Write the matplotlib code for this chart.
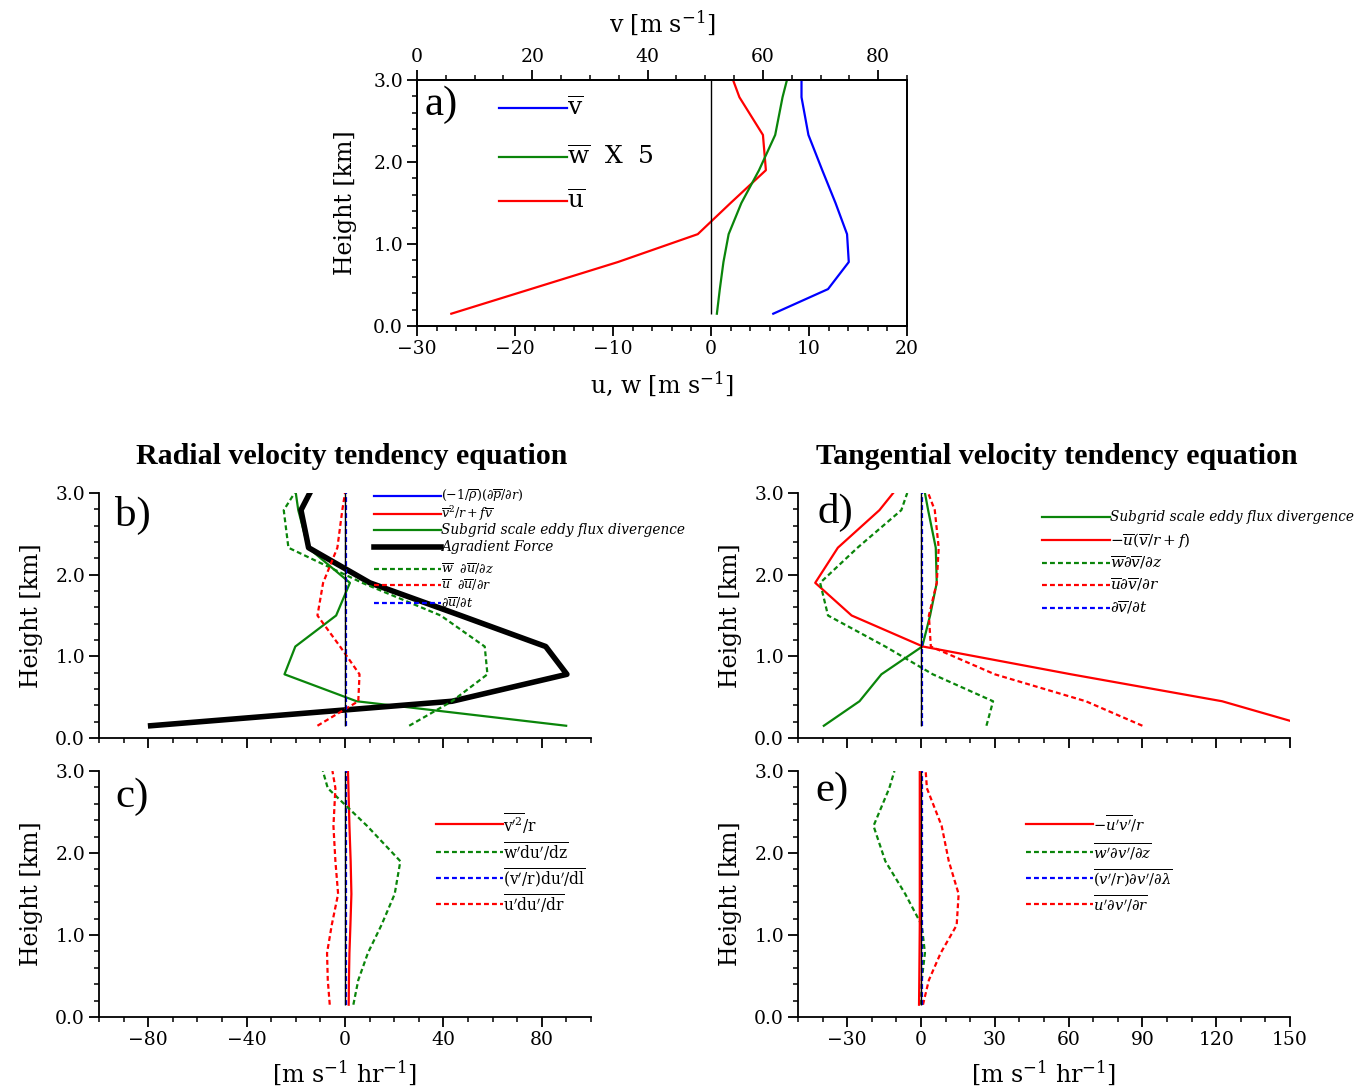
import matplotlib
matplotlib.use("Agg")
import matplotlib.pyplot as plt
from matplotlib.lines import Line2D
from matplotlib.ticker import MultipleLocator

plt.rcParams['font.family'] = 'DejaVu Serif'
plt.rcParams['mathtext.fontset'] = 'dejavuserif'
plt.rcParams['font.size'] = 13.5

W, H = 1364, 1089

# model levels [km]
z = [0.15, 0.45, 0.78, 1.12, 1.5, 1.9, 2.33, 2.79, 3.0]

# a) mean profiles [m/s]
u_bar = [-26.5, -18.4, -9.5, -1.35, 2.0, 5.6, 5.3, 2.9, 2.25]
w_bar_x5 = [0.6, 0.9, 1.27, 1.8, 3.1, 4.9, 6.55, 7.3, 7.75]
v_bar = [61.8, 71.3, 74.9, 74.6, 72.6, 70.3, 67.9, 66.7, 66.7]

# b) radial velocity budget [m/s/hr]
agradient = [-79, 43.5, 90.2, 81.6, 47, 10.1, -14.8, -17.9, -14.3]
subgrid_u = [89.9, 4.7, -24.6, -20.2, -3.6, 2.0, -15, -19, -20]
w_dudz = [26.1, 43.5, 57.9, 56.8, 38.9, 7.0, -23.0, -24.9, -20.5]
u_dudr = [-11.2, 5.4, 5.9, -2.0, -11.2, -8.9, -3.1, -1.1, 0.0]
dudt = [0.5, 0.5, 0.5, 0.5, 0.5, 0.5, 0.5, 0.5, 0.5]

# c) radial eddy terms
vp2_r = [1.5, 1.6, 1.8, 2.2, 2.6, 2.3, 1.8, 1.4, 1.2]
wp_dudz = [3.4, 5.4, 9.3, 14.8, 20.2, 22.5, 9.0, -7.0, -9.0]
vr_dudl = [0.3, 0.3, 0.3, 0.3, 0.3, 0.3, 0.3, 0.3, 0.3]
up_dudr = [-6.2, -7.0, -7.3, -5.4, -2.8, -3.9, -4.7, -3.9, -5.1]

# d) tangential velocity budget
subgrid_v = [-39.5, -25.0, -16.1, 0.5, 3.7, 6.4, 6.0, 2.9, 1.6]
abs_vort_flux = [157, 122.4, 61, 0.8, -28.2, -43, -33.8, -16.9, -11.3]
w_dvdz = [26.6, 29.3, 4.8, -14.5, -37.8, -41, -25.8, -8, -5.6]
u_dvdr = [90, 67, 30, 4, 3.2, 6.4, 7.2, 5.6, 2.9]
dvdt = [0.5, 0.5, 0.5, 0.5, 0.5, 0.5, 0.5, 0.5, 0.5]

# e) tangential eddy terms
upvp_r = [-0.8, -0.7, -0.6, -0.5, -0.5, -0.5, -0.5, -0.5, -0.5]
wp_dvdz = [0.0, 0.3, 1.6, 0.3, -6.4, -14.5, -19.3, -12.9, -10.8]
vr_dvdl = [0.3, 0.3, 0.3, 0.3, 0.3, 0.3, 0.3, 0.3, 0.3]
up_dvdr = [0.8, 3.2, 8, 14.5, 15.3, 11.3, 8.4, 2.4, 1.9]

BLUE, RED, GREEN = '#0000ff', '#ff0000', '#0a850a'
DOT = (0, (2.2, 1.4))

fig = plt.figure(figsize=(W / 100, H / 100), dpi=100)


def axes_at(left, top, right, bottom):
    return fig.add_axes([left / W, 1 - bottom / H, (right - left) / W, (bottom - top) / H])


def style(ax, xlim, xmajor, xminor, box=False):
    ax.set_xlim(*xlim)
    ax.set_ylim(0, 3)
    ax.xaxis.set_major_locator(MultipleLocator(xmajor))
    ax.xaxis.set_minor_locator(MultipleLocator(xminor))
    ax.yaxis.set_major_locator(MultipleLocator(1.0))
    ax.yaxis.set_minor_locator(MultipleLocator(0.2))
    ax.yaxis.set_major_formatter(lambda v, p: '%.1f' % v)
    ax.tick_params(which='major', direction='out', length=7, width=1.3, pad=3)
    ax.tick_params(which='minor', direction='out', length=3.5, width=1.1)
    for s in ax.spines.values():
        s.set_linewidth(1.3)
    if not box:
        ax.spines['top'].set_visible(False)
        ax.spines['right'].set_visible(False)
    ax.set_ylabel('Height [km]', fontsize=17, labelpad=9)
    ax.xaxis.set_major_formatter(lambda v, p: ('%g' % v).replace('-', '\u2212'))


def zero_line(ax):
    ax.vlines(0, z[0], z[-1], color='k', lw=1.0, zorder=5)


def legend(entries, x0, x1, rows, size, style_='italic', math_scale=1.12):
    for (color, ls, lw, label), y in zip(entries, rows):
        fig.add_artist(Line2D([x0 / W, x1 / W], [1 - y / H] * 2, color=color,
                              ls=ls, lw=lw, transform=fig.transFigure))
        fs = size * math_scale if label.startswith('$') else size
        fig.text(x1 / W, 1 - y / H, label, fontsize=fs, style=style_,
                 va='center', ha='left')


# ---- a)
axa = axes_at(417, 80, 907, 326)
style(axa, (-30, 20), 10, 2, box=True)
axa.set_ylabel('Height [km]', fontsize=17, labelpad=12)
axa.tick_params(axis='y', which='both', right=False)
axa.plot(u_bar, z, color=RED, lw=1.6)
axa.plot(w_bar_x5, z, color=GREEN, lw=1.6)
zero_line(axa)
axa.set_xlabel('u, w [m s$^{-1}$]', fontsize=17, labelpad=8)
axt = axa.twiny()
axt.set_xlim(0, 85)
axt.xaxis.set_major_locator(MultipleLocator(20))
axt.xaxis.set_minor_locator(MultipleLocator(5))
axt.tick_params(which='major', direction='out', length=7, width=1.3, pad=3)
axt.tick_params(which='minor', direction='out', length=3.5, width=1.1)
axt.plot(v_bar, z, color=BLUE, lw=1.6)
axt.set_xlabel('v [m s$^{-1}$]', fontsize=17, labelpad=12)
for s in axt.spines.values():
    s.set_linewidth(1.3)
axa.text(0.016, 0.9, 'a)', transform=axa.transAxes, fontsize=31,
         family='Liberation Serif', va='center')
legend([(BLUE, '-', 1.6, r'$\overline{\mathrm{v}}$'),
        (GREEN, '-', 1.6, r'$\overline{\mathrm{w}}$  X  5'),
        (RED, '-', 1.6, r'$\overline{\mathrm{u}}$')],
       499, 567, [108, 157, 201], 16, 'normal')

# ---- b)
axb = axes_at(99, 493, 591, 738)
style(axb, (-100, 100), 40, 10)
axb.set_xticklabels([])
zero_line(axb)
axb.plot(subgrid_u, z, color=GREEN, lw=1.6)
axb.plot(agradient, z, color='k', lw=4)
axb.plot(w_dudz, z, color=GREEN, lw=1.6, ls=DOT)
axb.plot(u_dudr, z, color=RED, lw=1.6, ls=DOT)
axb.plot(dudt, z, color=BLUE, lw=1.6, ls=DOT)
axb.text(0.033, 0.91, 'b)', transform=axb.transAxes, fontsize=31,
         family='Liberation Serif', va='center')
legend([(BLUE, '-', 1.6, r'$(-1/\overline{\rho})(\partial\overline{p}/\partial r)$'),
        (RED, '-', 1.6, r'$\overline{v}^2/r+f\overline{v}$'),
        (GREEN, '-', 1.6, 'Subgrid scale eddy flux divergence'),
        ('k', '-', 4, 'Agradient Force'),
        (GREEN, DOT, 1.6, r'$\overline{w}\ \ \partial\overline{u}/\partial z$'),
        (RED, DOT, 1.6, r'$\overline{u}\ \ \partial\overline{u}/\partial r$'),
        (BLUE, DOT, 1.6, r'$\partial\overline{u}/\partial t$')],
       374, 441, [496, 514, 530, 547, 569, 585, 603], 9.8, math_scale=0.93)

# ---- c)
axc = axes_at(99, 771, 591, 1017)
style(axc, (-100, 100), 40, 10)
zero_line(axc)
axc.plot(vp2_r, z, color=RED, lw=1.6)
axc.plot(wp_dudz, z, color=GREEN, lw=1.6, ls=DOT)
axc.plot(vr_dudl, z, color=BLUE, lw=1.6, ls=DOT)
axc.plot(up_dudr, z, color=RED, lw=1.6, ls=DOT)
axc.set_xlabel('[m s$^{-1}$ hr$^{-1}$]', fontsize=17, labelpad=7)
axc.text(0.033, 0.894, 'c)', transform=axc.transAxes, fontsize=31,
         family='Liberation Serif', va='center')
legend([(RED, '-', 1.6, r"$\overline{\mathrm{v}^{\prime 2}}/\mathrm{r}$"),
        (GREEN, DOT, 1.6, r"$\overline{\mathrm{w'du'/dz}}$"),
        (BLUE, DOT, 1.6, r"$\overline{\mathrm{(v'/r)du'/dl}}$"),
        (RED, DOT, 1.6, r"$\overline{\mathrm{u'du'/dr}}$")],
       436, 503, [824, 852, 878, 904], 10, 'normal')

# ---- d)
axd = axes_at(798, 493, 1290, 738)
style(axd, (-50, 150), 30, 10)
axd.set_xticklabels([])
zero_line(axd)
axd.plot(subgrid_v, z, color=GREEN, lw=1.6)
axd.plot(abs_vort_flux, z, color=RED, lw=1.6)
axd.plot(w_dvdz, z, color=GREEN, lw=1.6, ls=DOT)
axd.plot(u_dvdr, z, color=RED, lw=1.6, ls=DOT)
axd.plot(dvdt, z, color=BLUE, lw=1.6, ls=DOT)
axd.text(0.04, 0.92, 'd)', transform=axd.transAxes, fontsize=31,
         family='Liberation Serif', va='center')
legend([(GREEN, '-', 1.6, 'Subgrid scale eddy flux divergence'),
        (RED, '-', 1.6, r'$-\overline{u}(\overline{v}/r+f)$'),
        (GREEN, DOT, 1.6, r'$\overline{w}\partial\overline{v}/\partial z$'),
        (RED, DOT, 1.6, r'$\overline{u}\partial\overline{v}/\partial r$'),
        (BLUE, DOT, 1.6, r'$\partial\overline{v}/\partial t$')],
       1042, 1110, [517, 540, 563, 585, 608], 9.8)

# ---- e)
axe = axes_at(798, 771, 1290, 1017)
style(axe, (-50, 150), 30, 10)
axe.plot(wp_dvdz, z, color=GREEN, lw=1.6, ls=DOT)
axe.plot(up_dvdr, z, color=RED, lw=1.6, ls=DOT)
axe.plot(vr_dvdl, z, color=BLUE, lw=1.6, ls=DOT)
zero_line(axe)
axe.plot(upvp_r, z, color=RED, lw=1.6)
axe.set_xlabel('[m s$^{-1}$ hr$^{-1}$]', fontsize=17, labelpad=7)
axe.text(0.035, 0.92, 'e)', transform=axe.transAxes, fontsize=31,
         family='Liberation Serif', va='center')
legend([(RED, '-', 1.6, r"$-\overline{u'v'}/r$"),
        (GREEN, DOT, 1.6, r"$\overline{w'\partial v'/\partial z}$"),
        (BLUE, DOT, 1.6, r"$\overline{(v'/r)\partial v'/\partial\lambda}$"),
        (RED, DOT, 1.6, r"$\overline{u'\partial v'/\partial r}$")],
       1026, 1093, [824, 852, 878, 904], 9.5)

fig.text(352 / W, 1 - 456 / H, 'Radial velocity tendency equation', fontsize=21.5,
         family='Liberation Serif', weight='bold', ha='center', va='center')
fig.text(1057 / W, 1 - 456 / H, 'Tangential velocity tendency equation', fontsize=21.5,
         family='Liberation Serif', weight='bold', ha='center', va='center')

fig.savefig('out.png', dpi=100)
